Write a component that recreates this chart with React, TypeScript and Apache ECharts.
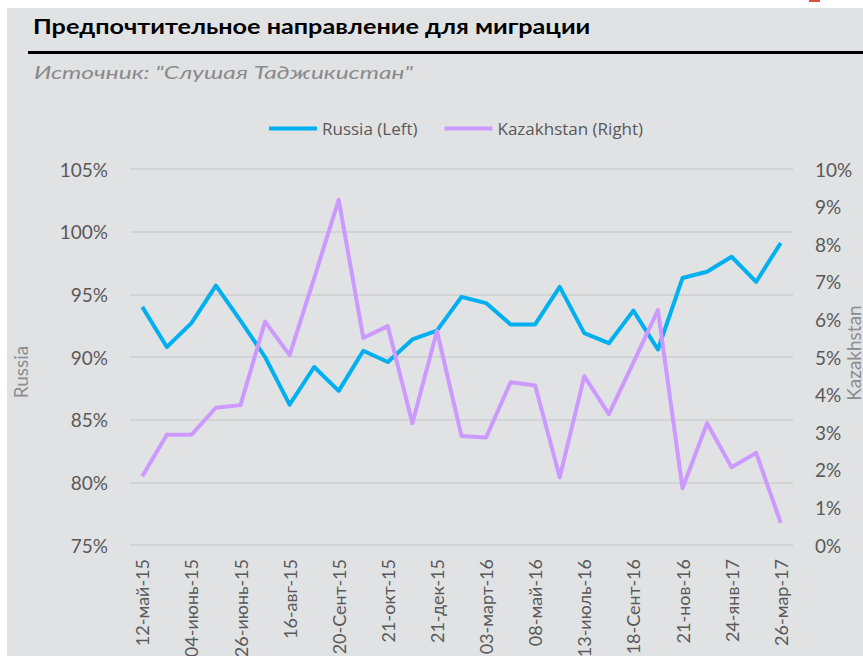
import React, { useEffect, useRef } from "react";
import * as echarts from "echarts";

const categories = [
  "12-май-15", "23-май-15", "04-июнь-15", "15-июнь-15", "26-июнь-15", "21-июль-15",
  "16-авг-15", "03-Сент-15", "20-Сент-15", "05-окт-15", "21-окт-15", "21-ноя-15",
  "21-дек-15", "31-янв-16", "03-март-16", "04-апр-16", "08-май-16", "10-июнь-16",
  "13-июль-16", "15-авг-16", "18-Сент-16", "20-окт-16", "21-нов-16", "23-дек-16",
  "24-янв-17", "24-фев-17", "26-мар-17",
];

const russia = [
  94.0, 90.8, 92.7, 95.7, 92.9, 90.0, 86.2, 89.2, 87.3, 90.5, 89.6, 91.4, 92.1, 94.8,
  94.3, 92.6, 92.6, 95.6, 91.9, 91.1, 93.7, 90.6, 96.3, 96.8, 98.0, 96.0, 99.1,
];

const kazakhstan = [
  1.83, 2.93, 2.93, 3.65, 3.72, 5.94, 5.05, 7.1, 9.18, 5.51, 5.82, 3.24, 5.69, 2.9,
  2.86, 4.33, 4.24, 1.8, 4.49, 3.48, 4.85, 6.25, 1.51, 3.24, 2.07, 2.45, 0.59,
];

const title = "Предпочтительное направление для миграции";
const subtitle = 'Источник: "Слушая Таджикистан"';
const seriesNames = ["Russia (Left)", "Kazakhstan (Right)"];

const FONT = "Lato";
const LABEL = "#595959";

export default function App() {
  const ref = useRef<HTMLDivElement>(null);
  useEffect(() => {
    if (!ref.current) return;
    const chart = echarts.init(ref.current, null, { renderer: "svg" });
    chart.setOption({
      animation: false,
      backgroundColor: "#e1e2e4",
      textStyle: { fontFamily: FONT },
      graphic: [
        {
          type: "text",
          x: 26,
          y: 18,
          scaleX: 1.2,
          style: { text: title, fontFamily: FONT, fontWeight: "bold", fontSize: 21, fill: "#000", verticalAlign: "middle" },
        },
        {
          type: "rect",
          shape: { x: 21, y: 43, width: 840, height: 3 },
          style: { fill: "#000" },
        },
        {
          type: "text",
          x: 27,
          y: 64,
          scaleX: 1.44,
          style: { text: subtitle, fontFamily: FONT, fontStyle: "italic", fontSize: 17, fill: "#8a8a8a", verticalAlign: "middle" },
        },
        {
          type: "text",
          x: 13,
          y: 364,
          rotation: Math.PI / 2,
          style: { text: "Russia", fontFamily: FONT, fontSize: 19, fill: "#8c8c8c", align: "center", verticalAlign: "middle" },
        },
        {
          type: "text",
          x: 846,
          y: 345,
          rotation: Math.PI / 2,
          style: { text: "Kazakhstan", fontFamily: FONT, fontSize: 19, fill: "#8c8c8c", align: "center", verticalAlign: "middle" },
        },
      ],
      legend: {
        left: 257,
        top: 107,
        icon: "rect",
        itemWidth: 48,
        itemHeight: 4,
        itemGap: 27,
        textStyle: { fontFamily: "Open Sans", fontSize: 17, color: LABEL },
        data: seriesNames,
      },
      grid: { left: 123, right: 70, top: 161, bottom: 111, outerBoundsMode: "none", containLabel: false },
      xAxis: {
        type: "category",
        data: categories,
        boundaryGap: true,
        axisLine: { show: false },
        axisTick: { show: false },
        axisLabel: {
          interval: 1,
          rotate: 90,
          margin: 14,
          fontFamily: FONT,
          fontSize: 18,
          color: LABEL,
        },
      },
      yAxis: [
        {
          type: "value",
          min: 75,
          max: 105,
          interval: 5,
          axisLine: { show: false },
          axisTick: { show: false },
          axisLabel: { formatter: "{value}%", margin: 22, fontFamily: FONT, fontSize: 19, color: LABEL },
          splitLine: { lineStyle: { color: "#d2d3d5", width: 2 } },
        },
        {
          type: "value",
          min: 0,
          max: 10,
          interval: 1,
          position: "right",
          axisLine: { show: false },
          axisTick: { show: false },
          axisLabel: { formatter: "{value}%", margin: 22, fontFamily: FONT, fontSize: 19, color: LABEL },
          splitLine: { show: false },
        },
      ],
      series: [
        {
          name: seriesNames[0],
          type: "line",
          yAxisIndex: 0,
          data: russia,
          showSymbol: false,
          symbol: "none",
          color: "#00b0f0",
          lineStyle: { width: 4, color: "#00b0f0", join: "round" },
          z: 3,
        },
        {
          name: seriesNames[1],
          type: "line",
          yAxisIndex: 1,
          data: kazakhstan,
          showSymbol: false,
          symbol: "none",
          color: "#cc99ff",
          lineStyle: { width: 4, color: "#cc99ff", join: "round" },
          z: 4,
        },
      ],
    });
    return () => chart.dispose();
  }, []);

  return (
    <div style={{ position: "absolute", left: 0, top: 0, width: 863, height: 656, background: "#fff", overflow: "hidden" }}>
      <div style={{ position: "absolute", left: 809, top: 0, width: 11, height: 2, background: "#d9553f" }} />
      <div ref={ref} style={{ position: "absolute", left: 7, top: 8, width: 856, height: 648 }} />
    </div>
  );
}
